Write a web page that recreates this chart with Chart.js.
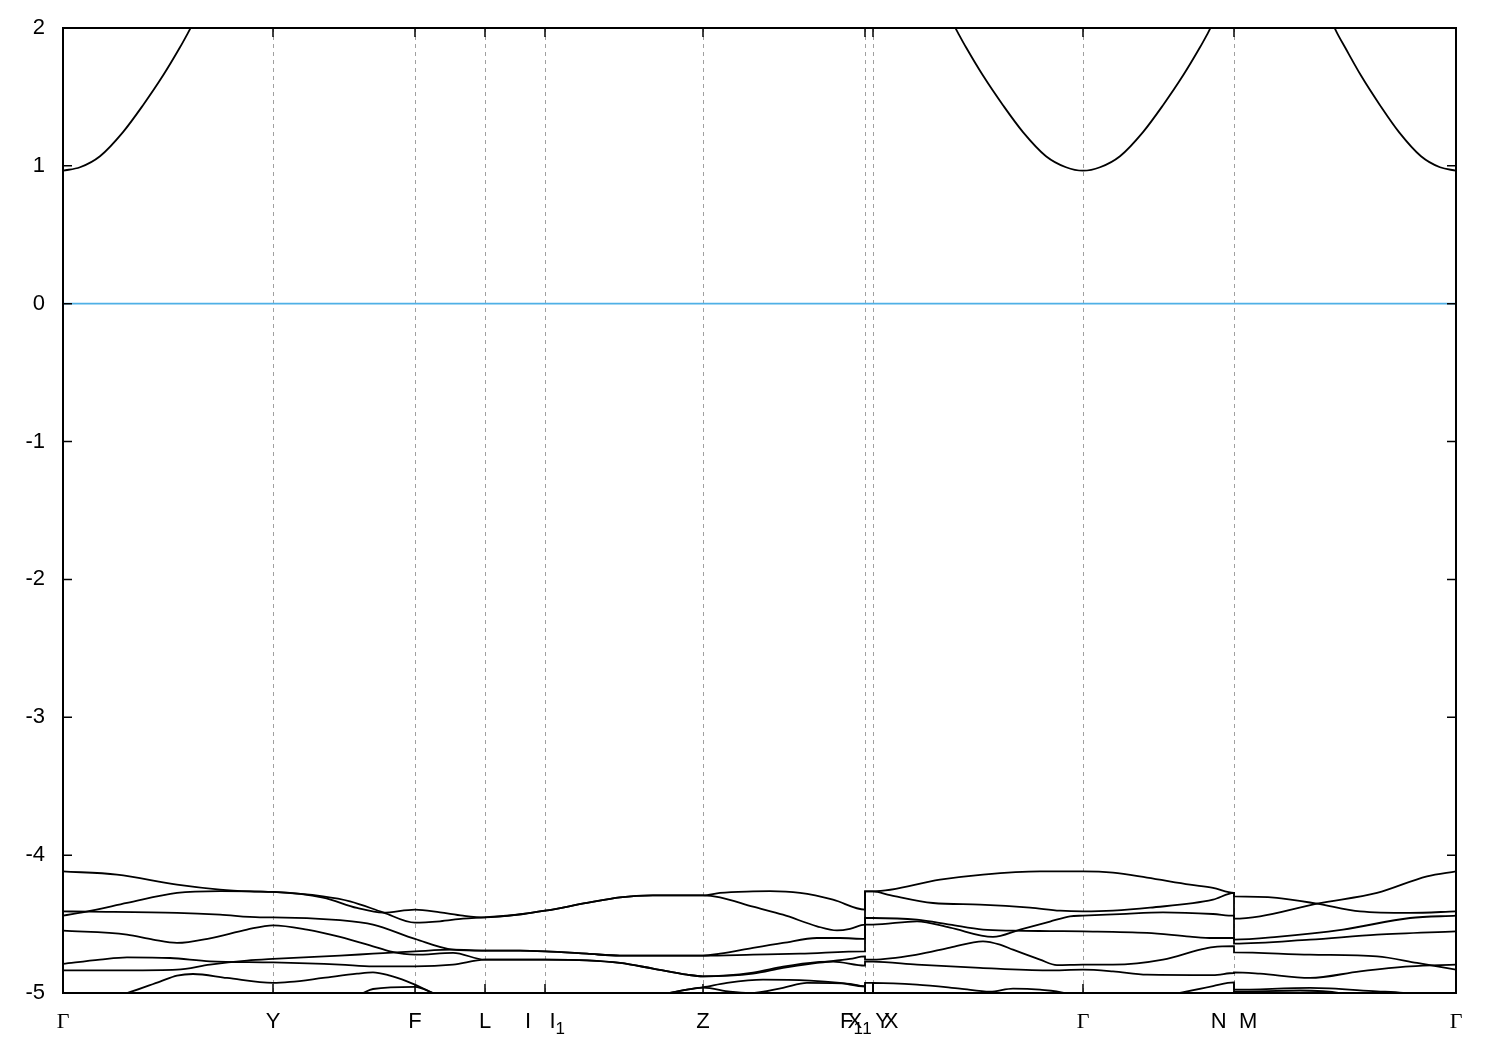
<!DOCTYPE html>
<html>
<head>
<meta charset="utf-8">
<script src="https://cdn.jsdelivr.net/npm/chart.js@4"></script>
<style>
  html, body { margin: 0; padding: 0; background: #fff; }
</style>
</head>
<body>
<canvas id="bands" width="1500" height="1050"></canvas>
<script>
// high-symmetry points along the path ("_1" = subscript, as in gnuplot)
const kPoints = [0, 0.210, 0.352, 0.422, 0.482, 0.640, 0.802, 0.810, 1.020, 1.171, 1.393];
const kLabels = ['Γ', 'Y', 'F', 'L', 'I   I_1', 'Z', 'F_1  Y', 'X_1  X', 'Γ', 'N  M', 'Γ'];
const yTicks = [-5, -4, -3, -2, -1, 0, 1, 2];
const fermi = 0;

// bands as [k, E] pairs (eV)
const cond = [[0,0.965],[0.017,0.99],[0.037,1.07],[0.060,1.245],[0.080,1.44],[0.100,1.655],[0.117,1.86],[0.125,1.965],[0.135,2.1],[0.150,2.3],[0.210,2.9],[0.352,3.1],[0.482,3.2],[0.640,3.2],[0.802,3.0],[0.810,3.0],
  [0.870,2.3],[0.885,2.1],[0.895,1.965],[0.903,1.86],[0.920,1.655],[0.940,1.44],[0.960,1.245],[0.983,1.07],[1.003,0.99],[1.020,0.965],
  [1.037,0.99],[1.057,1.07],[1.080,1.245],[1.100,1.44],[1.120,1.655],[1.137,1.86],[1.145,1.965],[1.155,2.1],[1.170,2.3],[1.171,2.4],
  [1.250,2.3],[1.265,2.1],[1.274,1.965],[1.282,1.86],[1.298,1.655],[1.317,1.44],[1.336,1.245],[1.358,1.07],[1.377,0.99],[1.393,0.965]];

const bandA = [[0,-4.118],[0.054,-4.141],[0.114,-4.214],[0.157,-4.250],[0.187,-4.263],[0.210,-4.267],
  [0.260,-4.299],[0.287,-4.335],[0.320,-4.415],[0.352,-4.490],[0.377,-4.480],[0.400,-4.461],[0.422,-4.451],
  [0.460,-4.427],[0.482,-4.403],[0.524,-4.347],[0.557,-4.306],[0.590,-4.292],[0.640,-4.292],
  [0.657,-4.274],[0.690,-4.263],[0.707,-4.261],[0.737,-4.274],[0.770,-4.323],[0.802,-4.395],
  [0.802,-4.263],[0.810,-4.263],
  [0.877,-4.178],[0.920,-4.141],[0.977,-4.118],[1.020,-4.118],
  [1.050,-4.127],[1.084,-4.163],[1.127,-4.214],[1.150,-4.238],[1.171,-4.274],
  [1.171,-4.299],[1.214,-4.310],[1.254,-4.352],[1.297,-4.408],[1.347,-4.419],[1.393,-4.408]];

const bandB = [[0,-4.439],[0.027,-4.405],[0.064,-4.347],[0.114,-4.274],[0.157,-4.261],[0.210,-4.267],
  [0.260,-4.308],[0.294,-4.383],[0.320,-4.417],[0.352,-4.395],[0.377,-4.415],[0.400,-4.439],[0.422,-4.451],
  [0.460,-4.427],[0.482,-4.403],[0.524,-4.347],[0.557,-4.306],[0.590,-4.292],[0.640,-4.292],
  [0.657,-4.306],[0.690,-4.374],[0.720,-4.432],[0.754,-4.516],[0.774,-4.546],[0.787,-4.535],[0.802,-4.504],
  [0.802,-4.263],[0.810,-4.263],
  [0.827,-4.290],[0.870,-4.347],[0.917,-4.359],[0.967,-4.381],[0.997,-4.403],[1.020,-4.408],
  [1.050,-4.403],[1.087,-4.381],[1.150,-4.323],[1.171,-4.274],
  [1.171,-4.461],[1.197,-4.444],[1.254,-4.352],[1.314,-4.274],[1.364,-4.154],[1.393,-4.118]];

const bandC = [[0,-4.408],[0.027,-4.410],[0.114,-4.419],[0.157,-4.432],[0.197,-4.451],[0.210,-4.451],
  [0.277,-4.472],[0.310,-4.504],[0.352,-4.608],[0.390,-4.686],[0.422,-4.693],
  [0.457,-4.693],[0.482,-4.698],[0.524,-4.715],[0.557,-4.729],[0.597,-4.729],[0.640,-4.729],
  [0.657,-4.715],[0.690,-4.673],[0.720,-4.637],[0.754,-4.601],[0.777,-4.601],[0.802,-4.608],
  [0.802,-4.456],[0.810,-4.456],
  [0.854,-4.468],[0.887,-4.504],[0.920,-4.540],[0.950,-4.548],[0.987,-4.551],[1.020,-4.553],
  [1.084,-4.564],[1.127,-4.591],[1.150,-4.601],[1.171,-4.601],
  [1.171,-4.642],[1.247,-4.613],[1.314,-4.577],[1.393,-4.553]];

const bandD = [[0,-4.548],[0.064,-4.577],[0.090,-4.613],[0.114,-4.637],[0.147,-4.603],[0.184,-4.540],[0.210,-4.509],
  [0.244,-4.540],[0.277,-4.593],[0.310,-4.661],[0.327,-4.698],[0.352,-4.722],[0.390,-4.709],[0.422,-4.758],
  [0.482,-4.758],[0.524,-4.763],[0.557,-4.782],[0.590,-4.823],[0.624,-4.867],[0.640,-4.879],
  [0.690,-4.860],[0.720,-4.818],[0.754,-4.782],[0.787,-4.753],[0.802,-4.734],
  [0.802,-4.758],[0.810,-4.758],
  [0.854,-4.722],[0.887,-4.671],[0.920,-4.625],[0.937,-4.649],[0.950,-4.686],[0.977,-4.758],[0.994,-4.798],[1.020,-4.794],
  [1.050,-4.794],[1.100,-4.758],[1.137,-4.686],[1.150,-4.667],[1.171,-4.660],
  [1.171,-4.705],[1.247,-4.722],[1.314,-4.734],[1.354,-4.782],[1.393,-4.831]];

const bandE = [[0,-4.836],[0.064,-4.836],[0.114,-4.831],[0.147,-4.794],[0.184,-4.765],[0.210,-4.753],
  [0.277,-4.729],[0.310,-4.715],[0.352,-4.698],[0.390,-4.686],[0.422,-4.693],
  [0.457,-4.693],[0.482,-4.698],[0.524,-4.715],[0.557,-4.729],[0.597,-4.729],[0.640,-4.729],
  [0.690,-4.722],[0.737,-4.715],[0.802,-4.698],
  [0.802,-4.504],[0.810,-4.504],
  [0.854,-4.480],[0.887,-4.526],[0.930,-4.593],[0.957,-4.540],[0.987,-4.482],[1.007,-4.444],[1.020,-4.439],
  [1.057,-4.428],[1.100,-4.415],[1.150,-4.427],[1.171,-4.439],
  [1.171,-4.613],[1.214,-4.593],[1.280,-4.540],[1.347,-4.456],[1.393,-4.439]];

const bandF = [[0,-4.789],[0.037,-4.758],[0.064,-4.741],[0.107,-4.746],[0.147,-4.770],[0.210,-4.778],
  [0.277,-4.794],[0.310,-4.807],[0.352,-4.807],[0.390,-4.794],[0.422,-4.758],
  [0.482,-4.758],[0.524,-4.763],[0.557,-4.782],[0.590,-4.823],[0.624,-4.867],[0.640,-4.879],
  [0.690,-4.852],[0.720,-4.809],[0.754,-4.776],[0.770,-4.773],[0.802,-4.802],
  [0.802,-4.773],[0.810,-4.773],
  [0.854,-4.794],[0.917,-4.818],[0.984,-4.836],[1.020,-4.831],
  [1.050,-4.843],[1.084,-4.867],[1.150,-4.870],[1.171,-4.855],
  [1.171,-4.850],[1.197,-4.860],[1.247,-4.891],[1.297,-4.843],[1.347,-4.807],[1.393,-4.794]];

const bandG = [[0,-5.12],[0.064,-5.0],[0.097,-4.917],[0.114,-4.874],[0.130,-4.862],[0.164,-4.891],[0.210,-4.927],
  [0.227,-4.920],[0.260,-4.891],[0.294,-4.860],[0.310,-4.850],[0.327,-4.874],[0.344,-4.915],[0.352,-4.939],[0.370,-5.0],[0.387,-5.05],
  [0.422,-5.10],[0.482,-5.12],[0.577,-5.05],[0.607,-5.0],[0.624,-4.976],[0.640,-4.959],
  [0.664,-4.927],[0.700,-4.903],[0.747,-4.910],[0.777,-4.927],[0.802,-4.952],
  [0.802,-5.05],[0.810,-5.05],[0.810,-4.927],
  [0.854,-4.939],[0.897,-4.968],[0.927,-4.990],[0.950,-4.968],[0.977,-4.976],[1.002,-5.001],[1.020,-5.06],
  [1.087,-5.05],[1.117,-5.0],[1.150,-4.950],[1.171,-4.923],
  [1.171,-4.976],[1.247,-4.963],[1.314,-4.988],[1.340,-5.0],[1.393,-5.12]];

const bandH = [[0,-5.25],[0.210,-5.15],
  [0.277,-5.08],[0.300,-5.0],[0.310,-4.971],[0.352,-4.956],[0.370,-5.0],[0.390,-5.05],
  [0.482,-5.12],[0.577,-5.05],[0.607,-5.0],[0.624,-4.976],[0.640,-4.961],
  [0.667,-4.990],[0.687,-5.001],[0.720,-4.963],[0.744,-4.927],[0.787,-4.934],[0.802,-4.952],
  [0.802,-4.927],[0.810,-4.927],[0.810,-5.05],
  [1.020,-5.15],[1.171,-5.08],
  [1.171,-4.990],[1.237,-4.982],[1.277,-5.001],[1.393,-5.25]];

const bands = [cond, bandA, bandB, bandC, bandD, bandE, bandF, bandG, bandH];

const sansFont = "'Liberation Sans', Arial, sans-serif";
const serifFont = "'Liberation Serif', 'Times New Roman', serif";

// frame, inward ticks and the k-point labels (with gnuplot style subscripts)
const frameAndTicks = {
  id: 'frameAndTicks',
  afterDatasetsDraw(chart) {
    const {ctx, chartArea: a, scales: {x, y}} = chart;
    ctx.save();
    ctx.strokeStyle = '#000';
    ctx.lineWidth = 1.5;
    ctx.beginPath();
    yTicks.forEach(v => {
      const py = y.getPixelForValue(v);
      ctx.moveTo(a.left, py); ctx.lineTo(a.left + 9, py);
      ctx.moveTo(a.right, py); ctx.lineTo(a.right - 9, py);
    });
    kPoints.forEach(k => {
      const px = x.getPixelForValue(k);
      ctx.moveTo(px, a.bottom); ctx.lineTo(px, a.bottom - 9);
      ctx.moveTo(px, a.top); ctx.lineTo(px, a.top + 9);
    });
    ctx.stroke();
    ctx.lineWidth = 2;
    ctx.strokeRect(a.left, a.top, a.right - a.left, a.bottom - a.top);

    // labels
    ctx.fillStyle = '#000';
    ctx.textBaseline = 'alphabetic';
    ctx.textAlign = 'left';
    kLabels.forEach((lab, i) => {
      const fam = lab === 'Γ' ? serifFont : sansFont;
      const parts = [];
      lab.split(/(_.)/).forEach(s => {
        if (!s) return;
        if (s[0] === '_') parts.push({t: s.slice(1), sub: true});
        else parts.push({t: s, sub: false});
      });
      let w = 0;
      parts.forEach(p => {
        ctx.font = (p.sub ? 17 : 22) + 'px ' + fam;
        p.w = ctx.measureText(p.t).width;
        w += p.w;
      });
      let cx = x.getPixelForValue(kPoints[i]) - w / 2;
      const base = a.bottom + 35;
      parts.forEach(p => {
        ctx.font = (p.sub ? 17 : 22) + 'px ' + fam;
        ctx.fillText(p.t, cx, p.sub ? base + 6 : base);
        cx += p.w;
      });
    });
    ctx.restore();
  }
};

const datasets = bands.map(b => ({
  data: b,
  borderColor: '#000',
  borderWidth: 1.8,
  pointRadius: 0,
  cubicInterpolationMode: 'monotone',
  fill: false
}));
datasets.push({
  data: [[kPoints[0], fermi], [kPoints[kPoints.length - 1], fermi]],
  borderColor: '#4fb0e6',
  borderWidth: 1.8,
  pointRadius: 0,
  fill: false
});

new Chart(document.getElementById('bands'), {
  type: 'line',
  data: { datasets: datasets },
  options: {
    responsive: false,
    animation: false,
    layout: { padding: { left: 0, top: 28, right: 44, bottom: 0 } },
    plugins: {
      legend: { display: false },
      tooltip: { enabled: false }
    },
    scales: {
      x: {
        type: 'linear',
        min: kPoints[0],
        max: kPoints[kPoints.length - 1],
        afterBuildTicks: scale => { scale.ticks = kPoints.map(v => ({ value: v })); },
        afterFit: scale => { scale.height = 57; scale.paddingLeft = 0; scale.paddingRight = 0; },
        grid: {
          color: c => (c.index > 0 && c.index < kPoints.length - 1) ? '#a0a0a0' : 'rgba(0,0,0,0)',
          lineWidth: 1,
          drawTicks: false
        },
        border: { display: false, dash: [4, 4] },
        ticks: { display: false }
      },
      y: {
        min: -5,
        max: 2,
        afterBuildTicks: scale => { scale.ticks = yTicks.map(v => ({ value: v })); },
        afterFit: scale => { scale.width = 63; scale.paddingTop = 0; scale.paddingBottom = 0; },
        grid: { display: false, drawTicks: false },
        border: { display: false },
        ticks: {
          padding: 18,
          color: '#000',
          font: { family: sansFont, size: 22 },
          callback: v => String(v)
        }
      }
    }
  },
  plugins: [frameAndTicks]
});
</script>
</body>
</html>
